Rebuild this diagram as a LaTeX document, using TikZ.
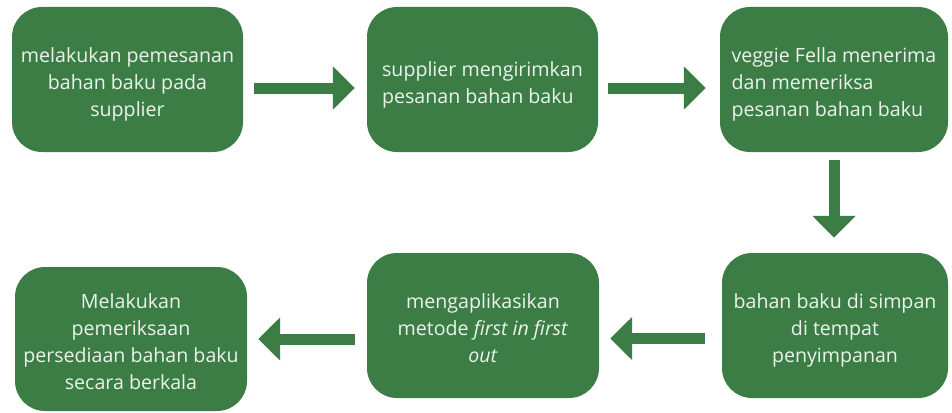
\documentclass[tikz,border=0pt]{standalone}
\usepackage{fontspec}
\setmainfont{Open Sans}
\usetikzlibrary{arrows.meta}
\definecolor{vert}{RGB}{59,125,69}
\definecolor{texte}{RGB}{236,243,236}
% texte d'une etape, un peu abaisse dans la boite
\newcommand{\etapetexte}[2]{\raisebox{-5pt}[\height][\depth]{\begin{tabular}{@{}#1@{}}#2\end{tabular}}}
\tikzset{
    etape/.style={fill=vert, text=texte, rounded corners=30pt, inner sep=0pt,
        minimum width=231pt, minimum height=145pt,
        font=\fontsize{19.6}{27}\selectfont},
    fleche/.style={vert, line width=11pt, -{Triangle[length=22pt,width=42pt]}}
}
\begin{document}
\begin{tikzpicture}[x=1pt,y=-1pt]
    \useasboundingbox (0,0) rectangle (952,412);
    % Etapes du haut
    \node[etape] (pesan) at (127.5,79.5) {\etapetexte{c}{melakukan pemesanan\\bahan baku pada\\supplier}};
    \node[etape] (kirim) at (482.5,79.5) {\etapetexte{l}{supplier mengirimkan\\pesanan bahan baku}};
    \node[etape, minimum width=228pt] (terima) at (834,79.5) {\etapetexte{l}{veggie Fella menerima\\dan memeriksa\\pesanan bahan baku}};
    % Etapes du bas
    \node[etape, minimum width=226pt] (simpan) at (835,325.5) {\etapetexte{c}{bahan baku di simpan\\di tempat\\penyimpanan}};
    \node[etape, minimum width=232pt] (fifo) at (483,325.5) {\etapetexte{c}{mengaplikasikan\\metode \textit{first in first}\\\textit{out}}};
    \node[etape, minimum width=232pt, minimum height=144pt] (periksa) at (131,339) {\etapetexte{c}{Melakukan\\pemeriksaan\\persediaan bahan baku\\secara berkala}};
    % Fleches
    \draw[fleche, shorten <=11pt, shorten >=12pt] ([yshift=-8.5pt]pesan.east) -- ([yshift=-8.5pt]kirim.west);
    \draw[fleche, shorten <=10pt, shorten >=14pt] ([yshift=-8.5pt]kirim.east) -- ([yshift=-8.5pt]terima.west);
    \draw[fleche, shorten <=8pt, shorten >=15pt] (terima.south) -- (terima.south |- simpan.north);
    \draw[fleche, shorten <=17pt, shorten >=11pt] ([yshift=-13pt]simpan.west) -- ([yshift=-13pt]fifo.east);
    \draw[fleche, shorten <=12pt, shorten >=11pt] ([yshift=-13.5pt]fifo.west) -- (periksa.east);
\end{tikzpicture}
\end{document}
